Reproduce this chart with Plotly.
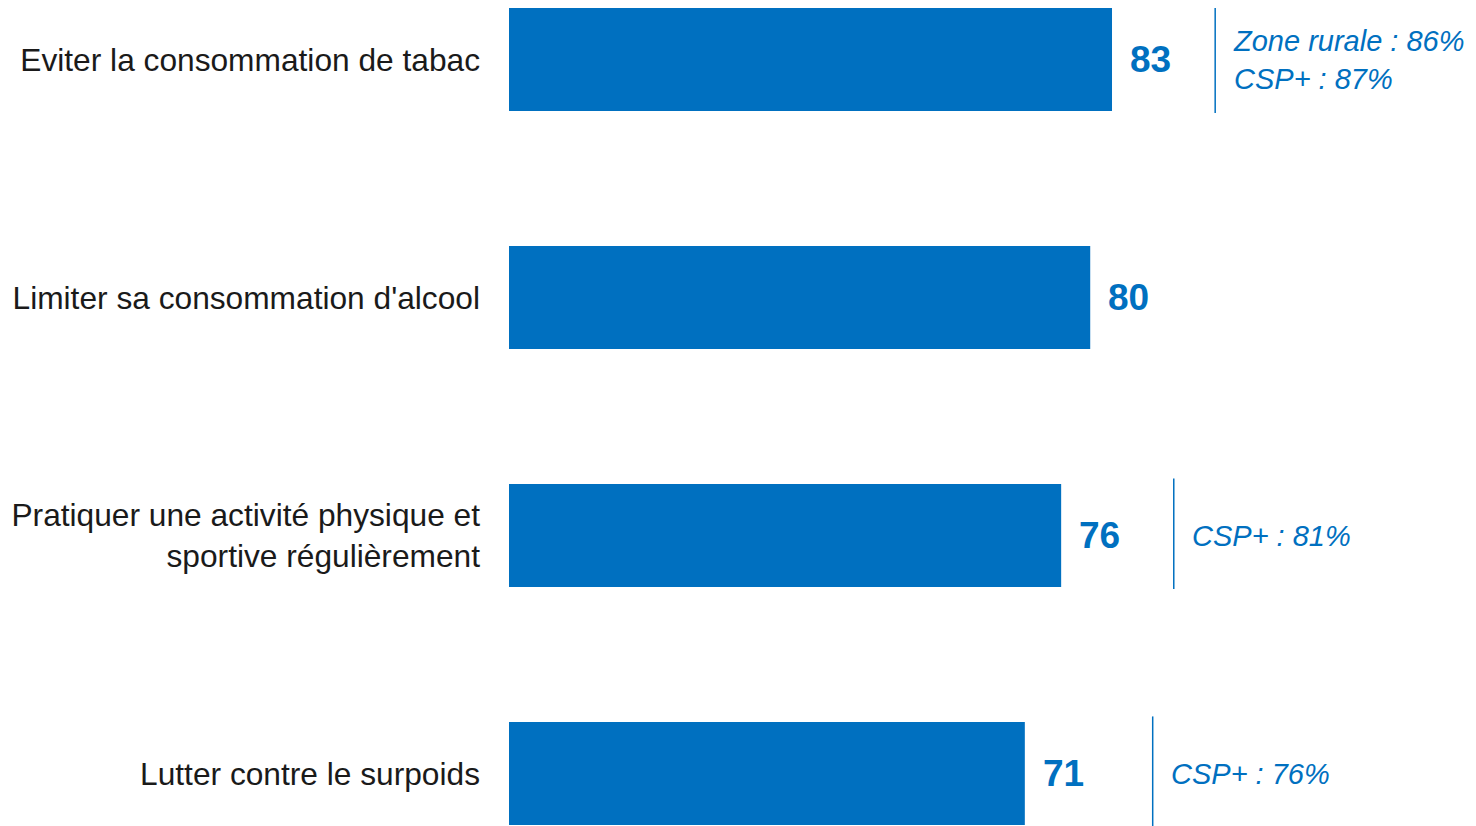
import plotly.graph_objects as go

categories = [
    "Eviter la consommation de tabac",
    "Limiter sa consommation d'alcool",
    "Pratiquer une activité physique et<br>sportive régulièrement",
    "Lutter contre le surpoids",
]
values = [83, 80, 76, 71]
notes = ["Zone rurale : 86%<br>CSP+ : 87%", "", "CSP+ : 81%", "CSP+ : 76%"]

blue = '#0070C0'
sep_x = [97.2, None, 91.5, 88.6]  # where the thin separator line sits (x units)

fig = go.Figure()
fig.add_trace(
    go.Bar(y=categories, x=values, orientation='h', marker_color=blue,
           marker_line_width=0, width=0.433, hoverinfo='skip')
)

# value labels next to the bars
for cat, val in zip(categories, values):
    fig.add_annotation(x=val, y=cat, text=f'<b>{val}</b>', showarrow=False,
                       xanchor='left', xshift=16,
                       font=dict(family='Liberation Sans', size=37, color=blue))

# side notes with separator line
for i, (cat, note) in enumerate(zip(categories, notes)):
    if not note:
        continue
    fig.add_shape(type='line', x0=sep_x[i], x1=sep_x[i], y0=i - 0.24, y1=i + 0.225,
                  line=dict(color=blue, width=1.5))
    fig.add_annotation(x=sep_x[i], y=cat, text=f'<i>{note}</i>', showarrow=False,
                       xanchor='left', align='left', xshift=16,
                       font=dict(family='Liberation Sans', size=29, color=blue))

# page body adds an 8px offset, so the figure is 8px smaller than the window
fig.update_layout(
    width=1468, height=818,
    margin=dict(l=501, r=0, t=0, b=0),
    paper_bgcolor='white', plot_bgcolor='white',
    showlegend=False,
    xaxis=dict(visible=False, range=[0, 133.1], fixedrange=True),
    yaxis=dict(
        range=[3.2204, -0.2165],
        showgrid=False, zeroline=False, ticks='',
        ticklabelstandoff=28,
        automargin=False,
        tickfont=dict(family='Liberation Sans', size=31.7, color='#1a1a1a'),
        fixedrange=True,
    ),
)

fig.write_html("out.html")
